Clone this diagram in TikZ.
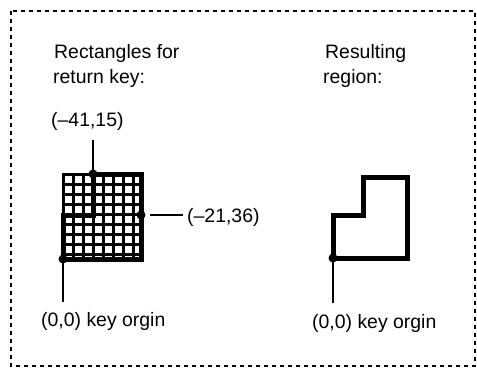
\documentclass[tikz,border=0pt]{standalone}
\usepackage{fontspec}
\setmainfont{Liberation Sans}
\begin{document}
\begin{tikzpicture}[x=1bp,y=-1bp,
  lbl/.style={anchor=base west,inner sep=0pt,font=\fontsize{19.5}{25}\selectfont},
  gridline/.style={line width=3bp},
  outline/.style={line width=5bp,line join=miter},
  leader/.style={line width=1.5bp},
  dot/.style={circle,fill=black,inner sep=0pt,minimum size=9bp},
  frame/.style={line width=1.8bp,dash pattern=on 4bp off 4bp}]
\useasboundingbox (0,0) rectangle (477,370);
\draw[frame] (11,11) rectangle (475,366);
% texts
\node[lbl] (t1) at (54,58) {Rectangles for};
\node[lbl] (t2) at (53,83) {return key:};
\node[lbl] (t3) at (325,58) {Resulting};
\node[lbl] (t4) at (323,83) {region:};
% grid
\draw[gridline] (63,174) rectangle (141,259);
\foreach \x in {73,83,93,103,113,123,133} \draw[gridline] (\x,174) -- (\x,259);
\foreach \y in {184,194,204,214,224,234,244,254} \draw[gridline] (63,\y) -- (141,\y);
\draw[outline] (63,259) -- (63,215) -- (93,215) -- (93,174) -- (141,174) -- (141,259) -- cycle;
\node[dot] (pA) at (93,174) {};
\node[dot] (pB) at (141,215) {};
\node[dot] (pO) at (63,259) {};
\coordinate (cA) at (93,140);
\coordinate (cB1) at (150,215);
\coordinate (cB2) at (183,215);
\coordinate (cO) at (63,302);
\draw[leader] (pA.center) -- (cA);
\draw[leader] (cB1) -- (cB2);
\draw[leader] (pO.center) -- (cO);
\node[lbl] (lA) at (51,126) {(–41,15)};
\node[lbl] (lB) at (187,222) {(–21,36)};
\node[lbl] (lO) at (41,326) {(0,0) key orgin};
% resulting region
\draw[outline] (333,258) -- (333,215) -- (363,215) -- (363,177) -- (407,177) -- (407,258) -- cycle;
\node[dot] (rO) at (333,258) {};
\coordinate (rC) at (333,303);
\draw[leader] (rO.center) -- (rC);
\node[lbl] (rl) at (312,328) {(0,0) key orgin};
\end{tikzpicture}
\end{document}
